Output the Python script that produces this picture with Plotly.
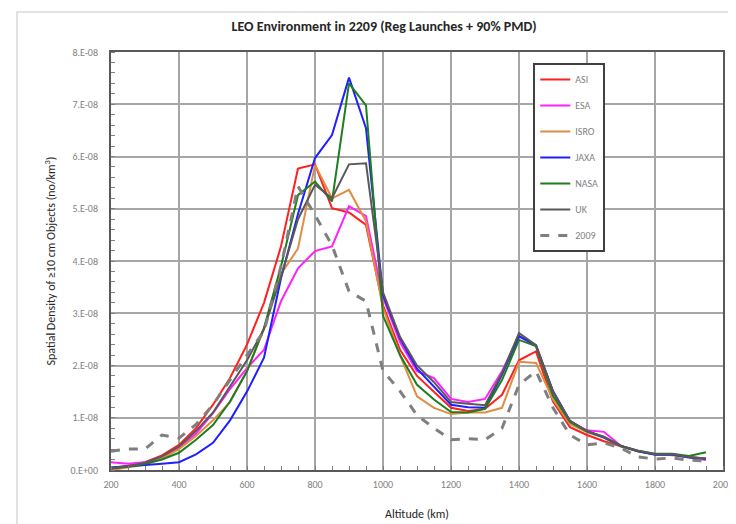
import plotly.graph_objects as go

altitude = [200, 250, 300, 350, 400, 450, 500, 550, 600, 650, 700, 750, 800, 850, 900, 950,
            1000, 1050, 1100, 1150, 1200, 1250, 1300, 1350, 1400, 1450, 1500, 1550, 1600,
            1650, 1700, 1750, 1800, 1850, 1900, 1950]

# values in units of 1e-8 objects/km^3
asi = [0.04, 0.08, 0.15, 0.28, 0.48, 0.8, 1.25, 1.76, 2.4, 3.2, 4.28, 5.77, 5.85, 5.01, 4.93, 4.69,
       3.15, 2.3, 1.8, 1.5, 1.19, 1.13, 1.17, 1.44, 2.1, 2.27, 1.31, 0.82, 0.67, 0.55, 0.45, 0.36,
       0.3, 0.3, 0.25, 0.22]
esa = [0.15, 0.12, 0.15, 0.25, 0.42, 0.7, 1.09, 1.55, 1.95, 2.3, 3.23, 3.86, 4.19, 4.28, 5.05, 4.86,
       3.3, 2.45, 1.89, 1.76, 1.36, 1.3, 1.36, 1.89, 2.56, 2.37, 1.5, 0.92, 0.76, 0.73, 0.46, 0.36,
       0.3, 0.3, 0.25, 0.19]
isro = [0.0, 0.05, 0.1, 0.22, 0.4, 0.65, 0.95, 1.3, 1.9, 2.7, 3.75, 4.24, 5.84, 5.2, 5.36, 4.76,
        3.1, 2.2, 1.41, 1.19, 1.07, 1.1, 1.1, 1.19, 2.07, 2.05, 1.35, 0.88, 0.72, 0.62, 0.45, 0.36,
        0.3, 0.28, 0.24, 0.21]
jaxa = [0.05, 0.07, 0.1, 0.12, 0.15, 0.3, 0.52, 0.95, 1.5, 2.15, 3.67, 4.9, 5.97, 6.41, 7.51, 6.54,
        3.35, 2.52, 1.94, 1.6, 1.25, 1.2, 1.19, 1.82, 2.56, 2.39, 1.51, 0.94, 0.74, 0.62, 0.46, 0.36,
        0.29, 0.29, 0.24, 0.21]
nasa = [0.03, 0.06, 0.12, 0.2, 0.33, 0.58, 0.86, 1.31, 1.89, 2.72, 3.9, 5.26, 5.52, 5.14, 7.4, 6.98,
        2.95, 2.2, 1.63, 1.35, 1.11, 1.1, 1.17, 1.72, 2.49, 2.37, 1.42, 0.92, 0.74, 0.64, 0.46, 0.37,
        0.31, 0.31, 0.27, 0.34]
uk = [0.03, 0.07, 0.14, 0.26, 0.45, 0.75, 1.1, 1.6, 2.1, 2.7, 3.7, 4.8, 5.46, 5.2, 5.85, 5.87,
      3.4, 2.55, 2.0, 1.68, 1.3, 1.27, 1.24, 1.85, 2.62, 2.39, 1.5, 0.94, 0.75, 0.63, 0.46, 0.37,
      0.3, 0.3, 0.25, 0.22]
y2009 = [0.36, 0.4, 0.4, 0.67, 0.61, 0.87, 1.25, 1.73, 2.2, 2.65, 3.9, 5.43, 4.88, 4.3, 3.42, 3.23,
         1.9, 1.51, 1.05, 0.8, 0.58, 0.6, 0.58, 0.8, 1.63, 1.89, 1.19, 0.67, 0.48, 0.52, 0.42, 0.25,
         0.21, 0.23, 0.19, 0.17]

y_tickvals = [0, 1e-8, 2e-8, 3e-8, 4e-8, 5e-8, 6e-8, 7e-8, 8e-8]
y_ticktext = ["0.E+00", "1.E-08", "2.E-08", "3.E-08", "4.E-08", "5.E-08", "6.E-08", "7.E-08", "8.E-08"]
x_tickvals = [200, 400, 600, 800, 1000, 1200, 1400, 1600, 1800, 2000]

series = [
    ("ASI", asi, "#ff1f1f", "solid", 2),
    ("ESA", esa, "#ff1fff", "solid", 2),
    ("ISRO", isro, "#e08c42", "solid", 2),
    ("JAXA", jaxa, "#1f1fff", "solid", 2),
    ("NASA", nasa, "#1e7d1e", "solid", 2),
    ("UK", uk, "#595959", "solid", 2),
    ("2009", y2009, "#7f7f7f", "dash", 3),
]

FONT = "Carlito, Calibri, Lato, Liberation Sans, Arial, sans-serif"

fig = go.Figure()
for i, (name, vals, color, dash, w) in enumerate(series):
    fig.add_trace(go.Scatter(
        x=altitude, y=[v * 1e-8 for v in vals], name=name, mode="lines",
        line=dict(color=color, width=w, dash=dash), legendgroup=f"g{i}"))

fig.update_layout(
    width=736, height=524,
    margin=dict(l=103, r=21, t=44, b=62),
    paper_bgcolor="white", plot_bgcolor="white",
    font=dict(family=FONT, color="#595959"),
    title=dict(text="<b>LEO Environment in 2209 (Reg Launches + 90% PMD)</b>",
               x=0.511, xref="container", xanchor="center",
               y=0.966, yref="container", yanchor="middle",
               font=dict(size=14, color="#262626", family=FONT)),
    legend=dict(x=0.69, y=0.9737, xanchor="left", yanchor="top",
                bordercolor="#404040", borderwidth=2, bgcolor="white",
                font=dict(size=10, color="#7f7f7f", family=FONT),
                tracegroupgap=7, itemwidth=30, entrywidth=58),
    showlegend=True,
)

fig.update_xaxes(
    range=[200, 2000], tickvals=x_tickvals, ticks="",
    showgrid=True, gridcolor="#a6a6a6", gridwidth=1.5,
    showline=True, linecolor="#595959", linewidth=2, mirror=True,
    tickfont=dict(size=10, color="#7f7f7f"), ticklabelstandoff=4,
    minor=dict(dtick=50, tick0=200, ticks="inside", ticklen=4, tickcolor="#7f7f7f", showgrid=False),
    title=dict(text="Altitude (km)", font=dict(size=12, color="#262626"), standoff=20),
    zeroline=False,
)
fig.update_yaxes(
    range=[0, 8e-8], tickvals=y_tickvals, ticktext=y_ticktext, ticks="",
    showgrid=True, gridcolor="#a6a6a6", gridwidth=1.5,
    showline=True, linecolor="#595959", linewidth=2, mirror=True,
    tickfont=dict(size=10, color="#7f7f7f"), ticklabelstandoff=9,
    minor=dict(dtick=2e-9, tick0=0, ticks="inside", ticklen=4, tickcolor="#7f7f7f", showgrid=False),
    title=dict(text="Spatial Density of ≥10 cm Objects (no/km<sup>3</sup>)",
               font=dict(size=12, color="#262626"), standoff=12),
    zeroline=False,
)

# outer chart-area frame
fig.add_shape(type="rect", xref="paper", yref="paper",
              x0=(9 - 103) / 612, x1=(745 - 103) / 612,
              y0=(462 - 522) / 418, y1=(462 - 4) / 418,
              line=dict(color="#d9d9d9", width=1.5), layer="below")

fig.write_html("out.html")
